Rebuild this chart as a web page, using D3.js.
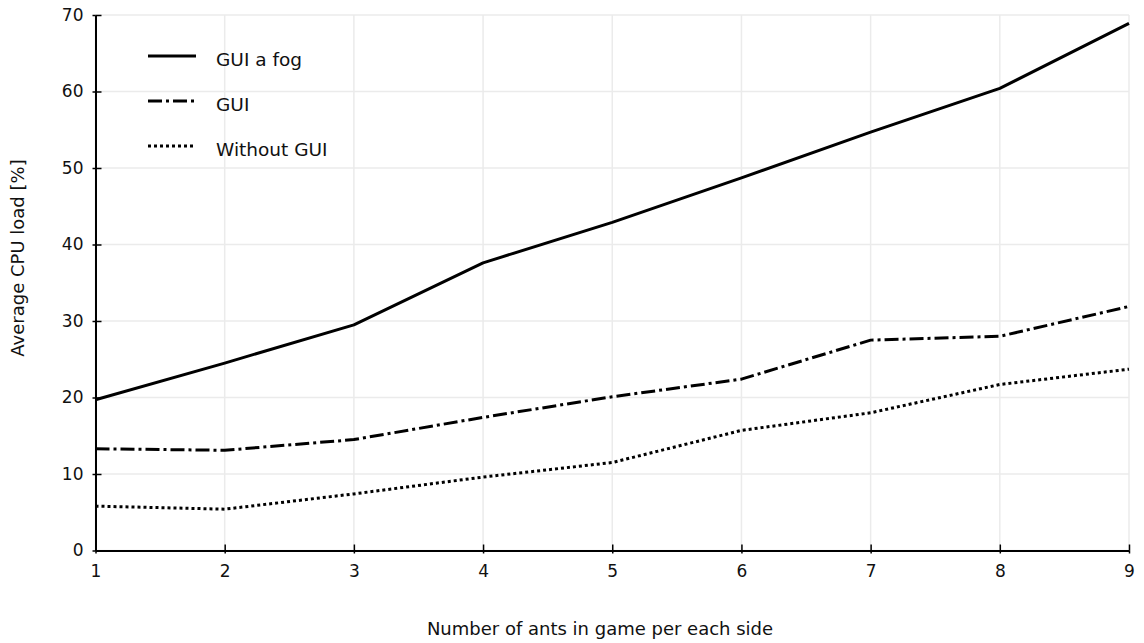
<!DOCTYPE html>
<html>
<head>
<meta charset="utf-8">
<script src="https://cdn.jsdelivr.net/npm/d3@7/dist/d3.min.js"></script>
<style>
  html, body { margin: 0; padding: 0; background: #fff; }
  svg { display: block; font-family: "DejaVu Sans", Verdana, sans-serif; }
</style>
</head>
<body>
<svg id="chart" width="1144" height="643"></svg>
<script>
// Ants per side on the x axis
const antsPerSide = [1, 2, 3, 4, 5, 6, 7, 8, 9];

// Average CPU load [%] for each configuration
const guiFog     = [19.7, 24.5, 29.5, 37.6, 42.9, 48.7, 54.7, 60.4, 68.9];
const guiOnly    = [13.3, 13.1, 14.5, 17.4, 20.1, 22.4, 27.5, 28.0, 31.9];
const withoutGui = [5.8, 5.4, 7.4, 9.6, 11.5, 15.7, 18.0, 21.7, 23.7];

const seriesNames = ["GUI a fog", "GUI", "Without GUI"];
const yTicks = [0, 10, 20, 30, 40, 50, 60, 70];

const series = [
  { name: seriesNames[0], values: guiFog,     dash: null },
  { name: seriesNames[1], values: guiOnly,    dash: "14,4,3,4" },
  { name: seriesNames[2], values: withoutGui, dash: "3,3" }
];

const svg = d3.select("#chart");
const plotLeft = 95.5, plotRight = 1129, plotTop = 15, plotBottom = 550.5;

const x = d3.scaleLinear().domain([1, 9]).range([plotLeft, plotRight]);
const y = d3.scaleLinear().domain([0, 70]).range([plotBottom, plotTop]);

// Grid
const grid = svg.append("g").attr("stroke", "#ebebeb").attr("stroke-width", 1.5);
grid.selectAll("line.h").data(yTicks).join("line").attr("class", "h")
  .attr("x1", plotLeft).attr("x2", plotRight)
  .attr("y1", d => y(d)).attr("y2", d => y(d));
grid.selectAll("line.v").data(antsPerSide).join("line").attr("class", "v")
  .attr("y1", plotTop).attr("y2", plotBottom)
  .attr("x1", d => x(d)).attr("x2", d => x(d));

// Lines
const line = d3.line()
  .x((d, i) => x(antsPerSide[i]))
  .y(d => y(d))
  .curve(d3.curveLinear);

svg.append("g").selectAll("path").data(series).join("path")
  .attr("d", d => line(d.values))
  .attr("fill", "none")
  .attr("stroke", "#000")
  .attr("stroke-width", 3)
  .attr("stroke-linejoin", "round")
  .attr("stroke-dasharray", d => d.dash);

// Axes
const xAxis = d3.axisBottom(x).tickValues(antsPerSide).tickFormat(d3.format("d"))
  .tickSizeInner(-6).tickSizeOuter(0).tickPadding(14);
const gx = svg.append("g").attr("transform", `translate(0,${plotBottom})`).call(xAxis);

const yAxis = d3.axisLeft(y).tickValues(yTicks).tickFormat(d3.format("d"))
  .tickSizeInner(-6).tickSizeOuter(0).tickPadding(12);
const gy = svg.append("g").attr("transform", `translate(${plotLeft},0)`).call(yAxis);

[gx, gy].forEach(g => {
  g.select(".domain").attr("stroke", "#000").attr("stroke-width", 2);
  g.selectAll(".tick line").attr("stroke", "#000").attr("stroke-width", 1.5);
  g.selectAll(".tick text").attr("fill", "#111").attr("font-size", 17)
    .attr("font-family", "DejaVu Sans, sans-serif");
});
// small outward stubs on the ticks
gx.selectAll(".tick").append("line").attr("y1", 0).attr("y2", 3).attr("stroke", "#000").attr("stroke-width", 1.5);
gy.selectAll(".tick").append("line").attr("x1", 0).attr("x2", -3).attr("stroke", "#000").attr("stroke-width", 1.5);

// Axis titles
svg.append("text")
  .attr("x", 600).attr("y", 635)
  .attr("text-anchor", "middle")
  .attr("font-size", 18).attr("fill", "#111")
  .text("Number of ants in game per each side");

svg.append("text")
  .attr("transform", "translate(24,258) rotate(-90)")
  .attr("text-anchor", "middle")
  .attr("font-size", 18).attr("fill", "#111")
  .text("Average CPU load [%]");

// Legend
const legend = svg.append("g").attr("transform", "translate(148,56)");
const rows = legend.selectAll("g").data(series).join("g")
  .attr("transform", (d, i) => `translate(0,${i * 45})`);
rows.append("line")
  .attr("x1", 0).attr("x2", 48).attr("y1", 0).attr("y2", 0)
  .attr("stroke", "#000").attr("stroke-width", 3)
  .attr("stroke-dasharray", d => d.dash);
rows.append("text")
  .attr("x", 68).attr("y", 9.5)
  .attr("font-size", 18.5).attr("fill", "#111")
  .text(d => d.name);
</script>
</body>
</html>
